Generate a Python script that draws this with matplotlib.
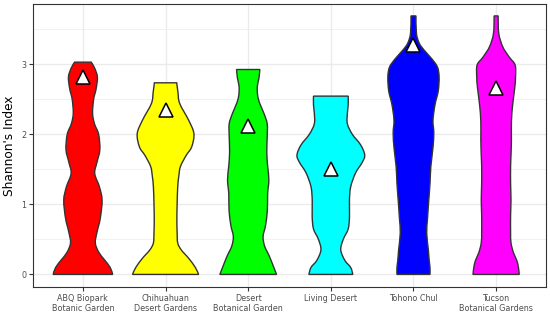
import numpy as np
import matplotlib
matplotlib.use("Agg")
import matplotlib.pyplot as plt
from matplotlib.path import Path
from matplotlib.patches import PathPatch

# gardens, colours and mean Shannon index (triangles)
gardens = ["ABQ Biopark\nBotanic Garden", "Chihuahuan\nDesert Gardens",
           "Desert\nBotanical Garden", "Living Desert", "Tohono Chul",
           "Tucson\nBotanical Gardens"]
colors = ["#FF0000", "#FFFF00", "#00FF00", "#00FFFF", "#0000FF", "#FF00FF"]
means = [2.82, 2.35, 2.12, 1.50, 3.28, 2.66]

# violin outlines: index level and half width
abq_y = [0, 0.1, 0.21, 0.32, 0.45, 0.6, 0.8, 1.06, 1.25, 1.44, 1.6, 1.78,
         2.0, 2.15, 2.3, 2.5, 2.65, 2.82, 2.95, 3.03]
abq_w = [0.36, 0.33, 0.26, 0.19, 0.15, 0.17, 0.21, 0.232, 0.2, 0.143, 0.17,
         0.205, 0.19, 0.14, 0.117, 0.13, 0.16, 0.175, 0.14, 0.10]

chi_y = [0, 0.1, 0.23, 0.35, 0.45, 0.6, 0.78, 1.0, 1.25, 1.4, 1.54, 1.7,
         1.82, 2.01, 2.2, 2.44, 2.6, 2.735]
chi_w = [0.40, 0.36, 0.28, 0.19, 0.147, 0.14, 0.137, 0.14, 0.147, 0.16,
         0.18, 0.25, 0.316, 0.343, 0.28, 0.171, 0.15, 0.135]

dbg_y = [0, 0.1, 0.26, 0.4, 0.54, 0.7, 0.92, 1.15, 1.35, 1.55, 1.75, 1.97,
         2.15, 2.3, 2.44, 2.55, 2.68, 2.8, 2.925]
dbg_w = [0.343, 0.31, 0.256, 0.2, 0.18, 0.21, 0.232, 0.235, 0.25, 0.235,
         0.225, 0.23, 0.23, 0.19, 0.14, 0.115, 0.11, 0.13, 0.141]

liv_y = [0, 0.1, 0.2, 0.35, 0.5, 0.65, 0.83, 1.05, 1.25, 1.45, 1.6, 1.705,
         1.85, 2.0, 2.15, 2.3, 2.42, 2.545]
liv_w = [0.266, 0.24, 0.17, 0.12, 0.15, 0.21, 0.226, 0.225, 0.24, 0.3,
         0.38, 0.41, 0.36, 0.26, 0.2, 0.2, 0.21, 0.21]

toh_y = [0, 0.1, 0.2, 0.35, 0.59, 0.8, 1.06, 1.3, 1.54, 1.8, 2.02, 2.2,
         2.42, 2.62, 2.82, 2.96, 3.08, 3.2, 3.3, 3.44, 3.69]
toh_w = [0.2, 0.2, 0.19, 0.18, 0.16, 0.17, 0.185, 0.2, 0.21, 0.235, 0.246,
         0.236, 0.26, 0.3, 0.31, 0.29, 0.22, 0.13, 0.07, 0.036, 0.03]

tuc_y = [0, 0.1, 0.2, 0.31, 0.45, 0.6, 0.85, 1.06, 1.3, 1.54, 1.7, 1.92,
         2.18, 2.42, 2.66, 2.82, 2.99, 3.1, 3.25, 3.44, 3.69]
tuc_w = [0.28, 0.27, 0.25, 0.21, 0.18, 0.175, 0.175, 0.18, 0.175, 0.175,
         0.18, 0.185, 0.185, 0.2, 0.225, 0.235, 0.23, 0.16, 0.08, 0.032, 0.024]

profiles = [(abq_y, abq_w), (chi_y, chi_w), (dbg_y, dbg_w),
            (liv_y, liv_w), (toh_y, toh_w), (tuc_y, tuc_w)]


def side_curve(pts):
    # bezier segments through the outline points (catmull-rom style handles)
    verts, codes = [], []
    n = len(pts)
    for k in range(n - 1):
        p0 = pts[max(k - 1, 0)]
        p1 = pts[k]
        p2 = pts[k + 1]
        p3 = pts[min(k + 2, n - 1)]
        c1 = p1 + (p2 - p0) / 6.0
        c2 = p2 - (p3 - p1) / 6.0
        verts += [c1, c2, p2]
        codes += [Path.CURVE4] * 3
    return verts, codes


def violin_path(center, ys, ws):
    ys = np.array(ys, dtype=float)
    ws = np.array(ws, dtype=float)
    right = np.column_stack([center + ws, ys])
    left = np.column_stack([center - ws, ys])[::-1]
    verts = [left[-1], right[0]]
    codes = [Path.MOVETO, Path.LINETO]
    v, c = side_curve(right)
    verts += v
    codes += c
    verts.append(left[0])
    codes.append(Path.LINETO)
    v, c = side_curve(left)
    verts += v
    codes += c
    verts.append(left[-1])
    codes.append(Path.CLOSEPOLY)
    return Path(np.array(verts), codes)


fig = plt.figure(figsize=(5.5, 3.17), dpi=100)
ax = fig.add_axes([0.0606, 0.0956, 0.9316, 0.8918])

# theme_bw look
grid_col = "#EBEBEB"
for v in [0.5, 1.5, 2.5, 3.5]:
    ax.axhline(v, color=grid_col, lw=0.5, zorder=0)
for v in [0, 1, 2, 3]:
    ax.axhline(v, color=grid_col, lw=1.0, zorder=0)
for i in range(len(gardens)):
    ax.axvline(i + 1, color=grid_col, lw=1.0, zorder=0)

for i, (ys, ws) in enumerate(profiles):
    patch = PathPatch(violin_path(i + 1, ys, ws), facecolor=colors[i],
                      edgecolor="#333333", lw=1.0, zorder=2)
    ax.add_patch(patch)

ax.plot(np.arange(1, len(gardens) + 1), means, ls="none", marker="^",
        ms=10.5, mfc="white", mec="black", mew=1.1, zorder=3)

ax.set_xlim(0.4, 6.6)
ax.set_ylim(-0.175, 3.86)
ax.set_xticks(np.arange(1, len(gardens) + 1))
ax.set_xticklabels(gardens)
ax.set_yticks([0, 1, 2, 3])
ax.set_yticklabels(["0", "1", "2", "3"])
ax.tick_params(axis="both", labelsize=5.8, labelcolor="#4D4D4D",
               color="#333333", length=3, width=0.8, pad=2)
ax.set_ylabel("Shannon's Index", fontsize=8.7, labelpad=4)
for s in ax.spines.values():
    s.set_color("#333333")
    s.set_linewidth(0.8)

fig.savefig("out.png", dpi=100)
